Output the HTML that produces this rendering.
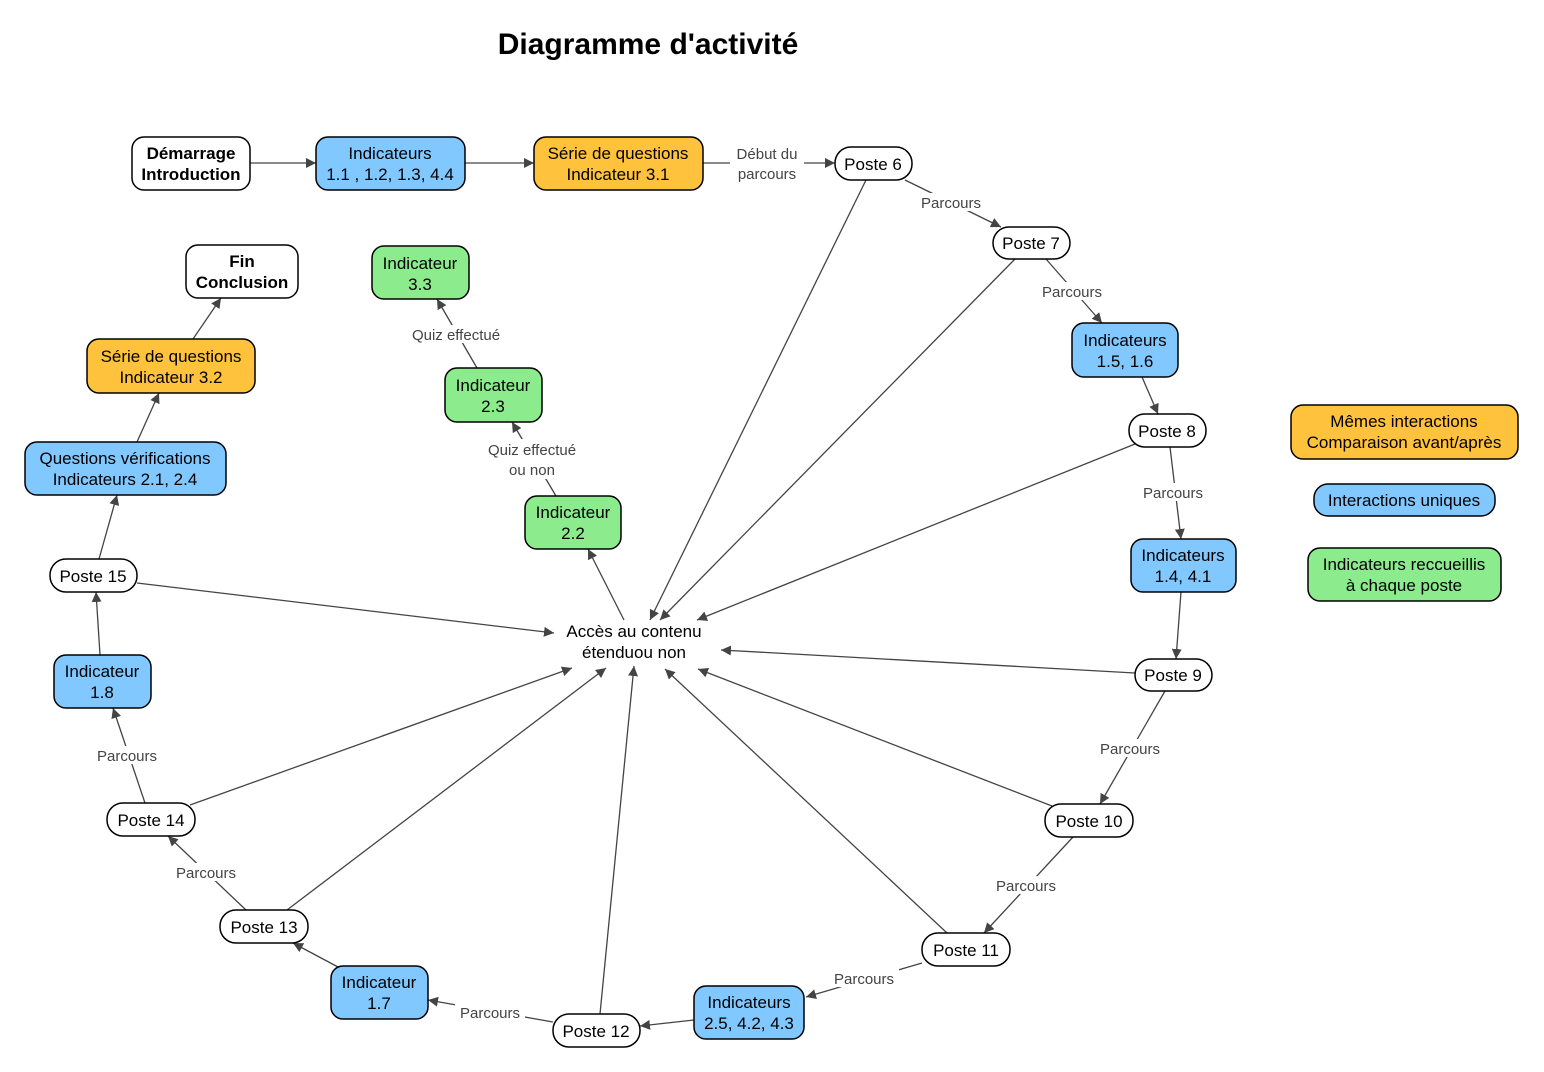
<!DOCTYPE html>
<html><head><meta charset="utf-8"><style>
html,body{margin:0;padding:0;background:#fff}
svg{display:block}
text{font-family:"Liberation Sans",sans-serif}
.n{font-size:17px;fill:#000;text-anchor:middle}
.b{font-weight:bold}
.l{font-size:15px;fill:#444;text-anchor:middle}
.e{stroke:#444;stroke-width:1.3;fill:none;marker-end:url(#a)}
.r{stroke:#000;stroke-width:1.5}
</style></head><body>
<svg width="1544" height="1072" viewBox="0 0 1544 1072">
<defs><marker id="a" viewBox="0 0 10 10" refX="10" refY="5" markerWidth="10" markerHeight="10" markerUnits="userSpaceOnUse" orient="auto"><path d="M0,0 L10,5 L0,10 z" fill="#444"/></marker></defs>
<text x="648" y="54" style="font-size:30px;font-weight:bold;text-anchor:middle">Diagramme d'activité</text>

<g>
<line class="e" x1="250" y1="163" x2="316" y2="163"/>
<line class="e" x1="465" y1="163" x2="534" y2="163"/>
<line class="e" x1="703" y1="163" x2="835" y2="163"/>
<line class="e" x1="905" y1="180" x2="1001" y2="227"/>
<line class="e" x1="1046" y1="259" x2="1102" y2="323"/>
<line class="e" x1="1142" y1="377" x2="1158" y2="414"/>
<line class="e" x1="1170" y1="447" x2="1181" y2="539"/>
<line class="e" x1="1181" y1="592" x2="1176" y2="659"/>
<line class="e" x1="1165" y1="691" x2="1100" y2="804"/>
<line class="e" x1="1073" y1="837" x2="984" y2="933"/>
<line class="e" x1="922" y1="963" x2="806" y2="997"/>
<line class="e" x1="694" y1="1020" x2="640" y2="1026"/>
<line class="e" x1="553" y1="1022" x2="428" y2="1000"/>
<line class="e" x1="338" y1="967" x2="293" y2="943"/>
<line class="e" x1="246" y1="910" x2="168" y2="836"/>
<line class="e" x1="145" y1="803" x2="113" y2="708"/>
<line class="e" x1="100" y1="655" x2="96" y2="592"/>
<line class="e" x1="99" y1="559" x2="117" y2="495"/>
<line class="e" x1="137" y1="442" x2="159" y2="393"/>
<line class="e" x1="193" y1="339" x2="221" y2="298"/>
<line class="e" x1="624" y1="620" x2="588" y2="549"/>
<line class="e" x1="556" y1="496" x2="512" y2="422"/>
<line class="e" x1="477" y1="368" x2="437" y2="299"/>
<line class="e" x1="866" y1="180" x2="650" y2="620"/>
<line class="e" x1="1015" y1="259" x2="660" y2="620"/>
<line class="e" x1="1135" y1="444" x2="697" y2="620"/>
<line class="e" x1="1135" y1="673" x2="721" y2="650"/>
<line class="e" x1="1052" y1="806" x2="698" y2="669"/>
<line class="e" x1="947" y1="933" x2="665" y2="669"/>
<line class="e" x1="600" y1="1014" x2="634" y2="666"/>
<line class="e" x1="287" y1="910" x2="606" y2="668"/>
<line class="e" x1="190" y1="805" x2="572" y2="668"/>
<line class="e" x1="137" y1="583" x2="554" y2="633"/>
</g>

<g fill="#fff">
<rect x="730" y="142" width="74" height="40"/>
<rect x="916" y="193" width="70" height="18"/>
<rect x="1037" y="282" width="70" height="18"/>
<rect x="1138" y="483" width="70" height="18"/>
<rect x="1095" y="739" width="70" height="18"/>
<rect x="991" y="876" width="70" height="18"/>
<rect x="829" y="969" width="70" height="18"/>
<rect x="455" y="1003" width="70" height="18"/>
<rect x="171" y="863" width="70" height="18"/>
<rect x="92" y="746" width="70" height="18"/>
<rect x="482" y="439" width="102" height="40"/>
<rect x="406" y="325" width="102" height="18"/>
</g>
<g class="l">
<text x="767" y="159">Début du</text><text x="767" y="179">parcours</text>
<text x="951" y="208">Parcours</text>
<text x="1072" y="297">Parcours</text>
<text x="1173" y="498">Parcours</text>
<text x="1130" y="754">Parcours</text>
<text x="1026" y="891">Parcours</text>
<text x="864" y="984">Parcours</text>
<text x="490" y="1018">Parcours</text>
<text x="206" y="878">Parcours</text>
<text x="127" y="761">Parcours</text>
<text x="532" y="455">Quiz effectué</text><text x="532" y="475">ou non</text>
<text x="456" y="340">Quiz effectué</text>
</g>

<g class="r">
<rect x="132" y="137" width="118" height="53" rx="12" fill="#fff"/>
<rect x="316" y="137" width="149" height="53" rx="12" fill="#80C8FF"/>
<rect x="534" y="137" width="169" height="53" rx="12" fill="#FFC23C"/>
<rect x="835" y="147" width="77" height="33" rx="16" fill="#fff"/>
<rect x="993" y="227" width="77" height="32" rx="16" fill="#fff"/>
<rect x="1072" y="323" width="106" height="54" rx="12" fill="#80C8FF"/>
<rect x="1129" y="414" width="77" height="33" rx="16" fill="#fff"/>
<rect x="1131" y="539" width="105" height="53" rx="12" fill="#80C8FF"/>
<rect x="1135" y="659" width="77" height="32" rx="16" fill="#fff"/>
<rect x="1045" y="804" width="88" height="33" rx="16" fill="#fff"/>
<rect x="922" y="933" width="88" height="33" rx="16" fill="#fff"/>
<rect x="694" y="986" width="110" height="53" rx="12" fill="#80C8FF"/>
<rect x="553" y="1014" width="87" height="33" rx="16" fill="#fff"/>
<rect x="331" y="966" width="97" height="53" rx="12" fill="#80C8FF"/>
<rect x="220" y="910" width="88" height="33" rx="16" fill="#fff"/>
<rect x="107" y="803" width="88" height="33" rx="16" fill="#fff"/>
<rect x="54" y="655" width="97" height="53" rx="12" fill="#80C8FF"/>
<rect x="50" y="559" width="87" height="33" rx="16" fill="#fff"/>
<rect x="25" y="442" width="201" height="53" rx="12" fill="#80C8FF"/>
<rect x="87" y="339" width="168" height="54" rx="12" fill="#FFC23C"/>
<rect x="186" y="245" width="112" height="53" rx="12" fill="#fff"/>
<rect x="372" y="246" width="97" height="53" rx="12" fill="#8CEB8C"/>
<rect x="445" y="368" width="97" height="54" rx="12" fill="#8CEB8C"/>
<rect x="525" y="496" width="96" height="53" rx="12" fill="#8CEB8C"/>
<rect x="1291" y="405" width="227" height="54" rx="12" fill="#FFC23C"/>
<rect x="1314" y="484" width="181" height="32" rx="14" fill="#80C8FF"/>
<rect x="1308" y="548" width="193" height="53" rx="12" fill="#8CEB8C"/>
</g>

<g class="n">
<text class="b" x="191" y="159">Démarrage</text><text class="b" x="191" y="180">Introduction</text>
<text x="390" y="159">Indicateurs</text><text x="390" y="180">1.1 , 1.2, 1.3, 4.4</text>
<text x="618" y="159">Série de questions</text><text x="618" y="180">Indicateur 3.1</text>
<text x="873" y="170">Poste 6</text>
<text x="1031" y="249">Poste 7</text>
<text x="1125" y="346">Indicateurs</text><text x="1125" y="367">1.5, 1.6</text>
<text x="1167" y="437">Poste 8</text>
<text x="1183" y="561">Indicateurs</text><text x="1183" y="582">1.4, 4.1</text>
<text x="1173" y="681">Poste 9</text>
<text x="1089" y="827">Poste 10</text>
<text x="966" y="956">Poste 11</text>
<text x="749" y="1008">Indicateurs</text><text x="749" y="1029">2.5, 4.2, 4.3</text>
<text x="596" y="1037">Poste 12</text>
<text x="379" y="988">Indicateur</text><text x="379" y="1009">1.7</text>
<text x="264" y="933">Poste 13</text>
<text x="151" y="826">Poste 14</text>
<text x="102" y="677">Indicateur</text><text x="102" y="698">1.8</text>
<text x="93" y="582">Poste 15</text>
<text x="125" y="464">Questions vérifications</text><text x="125" y="485">Indicateurs 2.1, 2.4</text>
<text x="171" y="362">Série de questions</text><text x="171" y="383">Indicateur 3.2</text>
<text class="b" x="242" y="267">Fin</text><text class="b" x="242" y="288">Conclusion</text>
<text x="420" y="269">Indicateur</text><text x="420" y="290">3.3</text>
<text x="493" y="391">Indicateur</text><text x="493" y="412">2.3</text>
<text x="573" y="518">Indicateur</text><text x="573" y="539">2.2</text>
<text x="634" y="637">Accès au contenu</text><text x="634" y="658">étenduou non</text>
<text x="1404" y="427">Mêmes interactions</text><text x="1404" y="448">Comparaison avant/après</text>
<text x="1404" y="506">Interactions uniques</text>
<text x="1404" y="570">Indicateurs reccueillis</text><text x="1404" y="591">à chaque poste</text>
</g>
</svg>
</body></html>
